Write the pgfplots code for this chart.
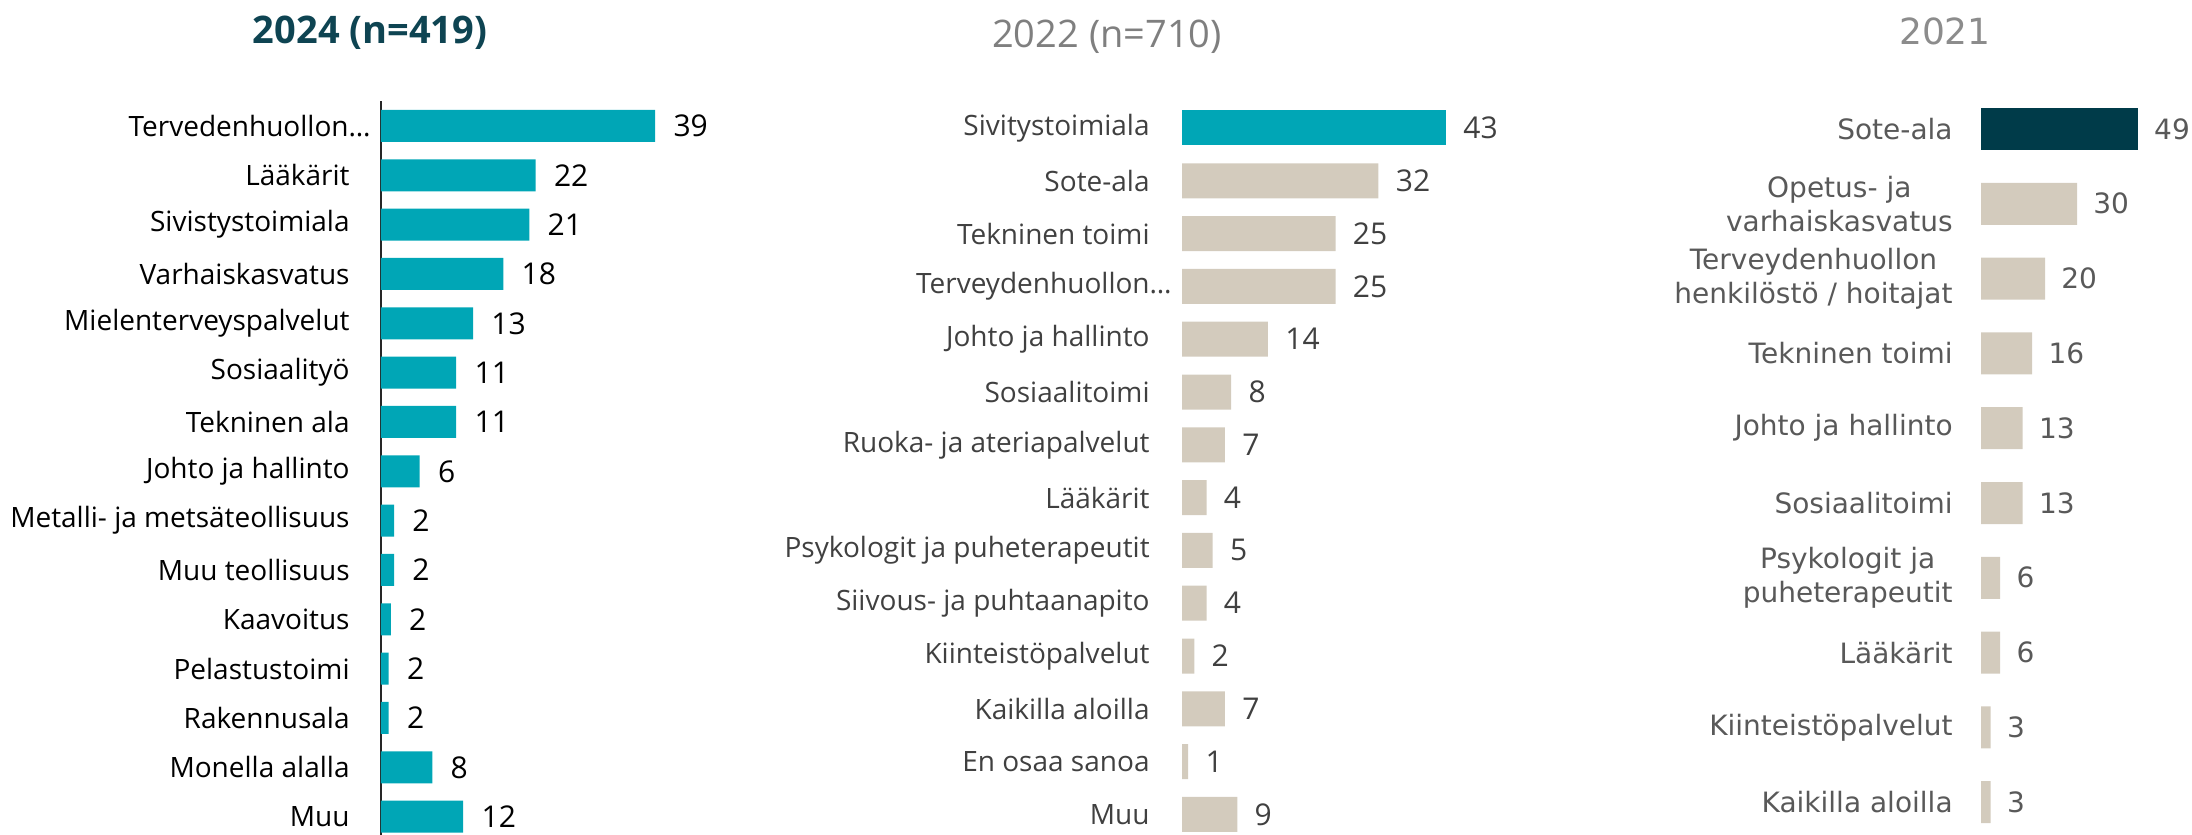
\documentclass[border=0pt]{standalone}
\usepackage{fontspec}
\setmainfont{Open Sans}
\newfontfamily\dejavu{DejaVu Sans}
\usepackage{pgfplots}
\pgfplotsset{compat=1.18}
\definecolor{teal1}{HTML}{00A6B6}
\definecolor{beige}{HTML}{D3CBBD}
\definecolor{dark}{HTML}{003B49}
\definecolor{ttl1}{HTML}{0E4452}
\definecolor{txt2}{HTML}{404040}
\definecolor{txt3}{HTML}{595959}
\definecolor{ttl2}{HTML}{7F7F7F}
\definecolor{ttl3}{HTML}{8C8C8C}
\begin{document}
\begin{tikzpicture}
\pgfplotsset{
  hbar/.style={xbar, scale only axis, y dir=reverse, xmin=0, clip=false,
    axis x line=none, axis y line*=left, xtick=\empty, major tick length=0pt,
    point meta=explicit symbolic, nodes near coords,
    /pgf/number format/assume math mode=true,
    every axis plot/.append style={draw=none, bar shift=0pt},
    yticklabel style={inner sep=0pt, anchor=east}, anchor=north west},
}
% titles
\node[anchor=base, font=\fontsize{19}{22}\selectfont\bfseries, text=ttl1] at (185pt,395.5pt) {2024 (n=419)};
\node[anchor=base, font=\fontsize{19}{22}\selectfont, text=ttl2] at (553.5pt,393.5pt) {2022 (n=710)};
\node[anchor=base, font=\dejavu\fontsize{18}{22}\selectfont, text=ttl3] at (972.5pt,395pt) {2021};

% 2024
\begin{axis}[hbar, at={(190.5pt,366.85pt)}, width=140.6pt, height=370pt,
  xmax=40, ymin=0.5, ymax=15.5, bar width=16pt,
  ytick={1,...,15},
  yticklabels={{Tervedenhuollon…\hspace*{-10.5pt}},Lääkärit,Sivistystoimiala,Varhaiskasvatus,
    Mielenterveyspalvelut,Sosiaalityö,Tekninen ala,Johto ja hallinto,
    Metalli- ja metsäteollisuus,Muu teollisuus,Kaavoitus,Pelastustoimi,
    Rakennusala,Monella alalla,Muu},
  yticklabel style={xshift=-15.5pt, font=\fontsize{14}{16}\selectfont, text=black},
  y axis line style={-, line width=1pt, draw=black!85},
  every node near coord/.append style={anchor=west, inner sep=0pt, xshift=9pt,
    font=\fontsize{15}{18}\selectfont, text=black}]
\addplot[fill=teal1] table[x=v, y=i, meta=lab] {
i v lab
1 39 39
2 22 22
3 21.1 21
4 17.4 18
5 13.1 13
6 10.7 11
7 10.7 11
8 5.5 6
9 1.85 2
10 1.85 2
11 1.4 2
12 1.1 2
13 1.1 2
14 7.3 8
15 11.7 12
};
\end{axis}

% 2022
\begin{axis}[hbar, at={(591pt,366.7pt)}, width=138.15pt, height=369.6pt,
  xmax=45, ymin=0.5, ymax=14.5, bar width=17.5pt,
  ytick={1,...,14},
  yticklabels={Sivitystoimiala,Sote-ala,Tekninen toimi,{Terveydenhuollon…\hspace*{-11pt}},
    Johto ja hallinto,Sosiaalitoimi,Ruoka- ja ateriapalvelut,Lääkärit,
    Psykologit ja puheterapeutit,Siivous- ja puhtaanapito,Kiinteistöpalvelut,
    Kaikilla aloilla,En osaa sanoa,Muu},
  yticklabel style={xshift=-16pt, font=\fontsize{14}{16}\selectfont, text=txt2},
  y axis line style={draw=none},
  every node near coord/.append style={anchor=west, inner sep=0pt, xshift=8.5pt,
    font=\fontsize{15}{18}\selectfont, text=txt2}]
\addplot[fill=teal1] table[x=v, y=i, meta=lab] {
i v lab
1 43 43
};
\addplot[fill=beige] table[x=v, y=i, meta=lab] {
i v lab
2 32 32
3 25 25
4 25 25
5 14 14
6 8 8
7 7 7
8 4 4
9 5 5
10 4 4
11 2 2
12 7 7
13 1 1
14 9 9
};
\end{axis}

% 2021
\begin{axis}[hbar, at={(990.5pt,371.7pt)}, width=80pt, height=374pt,
  xmax=50, ymin=0.5, ymax=10.5, bar width=21pt,
  ytick={1,...,10},
  yticklabels={Sote-ala,{Opetus- ja\\varhaiskasvatus},{Terveydenhuollon\\henkilöstö / hoitajat},
    Tekninen toimi,Johto ja hallinto,Sosiaalitoimi,{Psykologit ja\\puheterapeutit},
    Lääkärit,Kiinteistöpalvelut,Kaikilla aloilla},
  yticklabel style={xshift=-14pt, align=center, font=\dejavu\fontsize{14}{17}\selectfont, text=txt3},
  y axis line style={draw=none},
  every node near coord/.append style={anchor=west, inner sep=0pt, xshift=8pt,
    font=\dejavu\fontsize{14}{17}\selectfont, text=txt3}]
\addplot[fill=dark] table[x=v, y=i, meta=lab] {
i v lab
1 49 49
};
\addplot[fill=beige] table[x=v, y=i, meta=lab] {
i v lab
2 30 30
3 20 20
4 16 16
5 13 13
6 13 13
7 6 6
8 6 6
9 3 3
10 3 3
};
\end{axis}
\pgfresetboundingbox
\useasboundingbox (0,0) rectangle (1096pt,417.5pt);
\end{tikzpicture}
\end{document}
